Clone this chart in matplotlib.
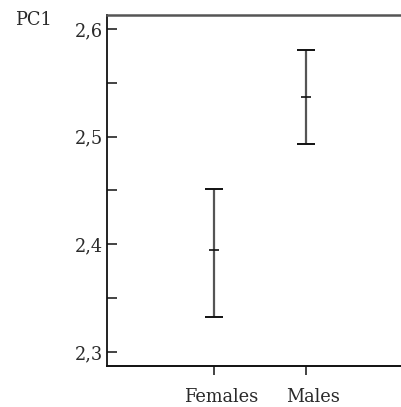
import matplotlib
matplotlib.use("Agg")
import matplotlib.pyplot as plt
import matplotlib.transforms as mtransforms
from matplotlib.ticker import FuncFormatter, MultipleLocator
import numpy as np

categories = ["Females", "Males"]
means = [2.3947, 2.5368]
upper = [2.4514, 2.5805]
lower = [2.3325, 2.4932]
y_label = "PC1"

plt.rcParams['font.family'] = ['DejaVu Serif']
txt_color = '#2a2a2a'

fig = plt.figure(figsize=(4.02, 4.07), dpi=100)
ax = fig.add_axes([107/402, 1-366/407, 1-107/402, (366-15)/407])

x = np.arange(len(categories))
means_a = np.array(means)
yerr = np.vstack([means_a - np.array(lower), np.array(upper) - means_a])

ax.errorbar(x, means_a, yerr=yerr, fmt='none', ecolor='#555555', elinewidth=1.6,
            capsize=0, zorder=2)
# caps
ax.plot(x, upper, linestyle='none', marker='_', markersize=12.5, markeredgewidth=1.4,
        color='#111111', zorder=3)
ax.plot(x, lower, linestyle='none', marker='_', markersize=12.5, markeredgewidth=1.4,
        color='#111111', zorder=3)
# mean marks
ax.plot(x, means, linestyle='none', marker='_', markersize=7.5, markeredgewidth=1.2,
        color='#111111', zorder=3)

ax.set_xlim(-106/91.5, 96/91.5 + 1)
ax.set_ylim(2.3 - 14/1076.7, 2.6 + 14/1076.7)

ax.yaxis.set_major_locator(MultipleLocator(0.1))
ax.yaxis.set_minor_locator(MultipleLocator(0.05))
ax.yaxis.set_major_formatter(FuncFormatter(lambda v, p: f"{v:.1f}".replace('.', ',')))

ax.set_xticks(x)
ax.set_xticklabels(categories)

ax.tick_params(axis='y', which='both', direction='in', length=7, width=1.1,
               colors='#111111', labelcolor=txt_color, labelsize=12.8, pad=3)
ax.tick_params(axis='x', direction='out', length=6.5, width=1.1, colors='#111111',
               labelcolor=txt_color, labelsize=12.8, pad=9)

offset = mtransforms.ScaledTranslation(8/100, 0, fig.dpi_scale_trans)
for lab in ax.get_xticklabels():
    lab.set_transform(lab.get_transform() + offset)

ax.spines['right'].set_visible(False)
ax.spines['left'].set_color('#111111')
ax.spines['left'].set_linewidth(1.3)
ax.spines['bottom'].set_color('#111111')
ax.spines['bottom'].set_linewidth(1.4)
ax.spines['top'].set_color('#555555')
ax.spines['top'].set_linewidth(1.8)

fig.text(15/402, 1-25/407, y_label, fontsize=12.8, color=txt_color, ha='left',
         va='baseline')

fig.savefig("out.png", dpi=100)
